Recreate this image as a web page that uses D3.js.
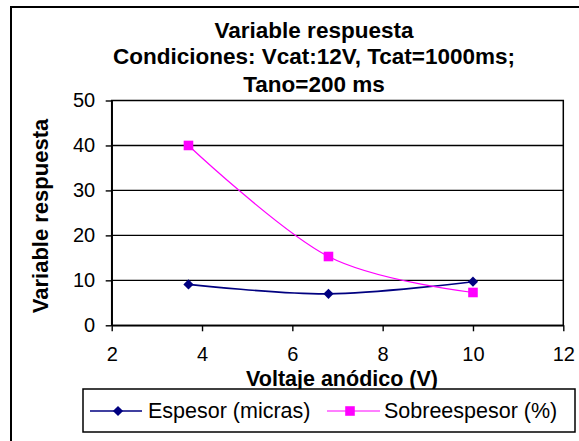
<!DOCTYPE html>
<html>
<head>
<meta charset="utf-8">
<script src="https://cdn.jsdelivr.net/npm/d3@7"></script>
<style>
  html, body { margin: 0; padding: 0; background: #fff; }
  svg { display: block; font-family: "Liberation Sans", Arial, sans-serif; }
</style>
</head>
<body>
<svg id="chart" width="579" height="441"></svg>
<script>
// Anodic voltage (V) for each measurement
const voltaje = [3.7, 6.8, 10];
// Coating thickness (micras)
const espesor = [9.1, 7.0, 9.7];
// Over-thickness (%)
const sobreespesor = [40, 15.3, 7.3];

const xTicks = [2, 4, 6, 8, 10, 12];
const yTicks = [0, 10, 20, 30, 40, 50];

const titleLines = [
  "Variable respuesta",
  "Condiciones: Vcat:12V, Tcat=1000ms;",
  "Tano=200 ms"
];
const xTitle = "Voltaje anódico (V)";
const yTitle = "Variable respuesta";
const seriesNames = ["Espesor (micras)", "Sobreespesor (%)"];

const svg = d3.select("#chart");

// outer chart frame (runs past the right and bottom edges)
svg.append("rect")
  .attr("x", 11).attr("y", 7)
  .attr("width", 620).attr("height", 480)
  .attr("fill", "#fff").attr("stroke", "#000").attr("stroke-width", 2);

const plot = { left: 111.7, right: 563.3, top: 100.5, bottom: 325.3 };

const x = d3.scaleLinear().domain([2, 12]).range([plot.left, plot.right]);
const y = d3.scaleLinear().domain([0, 50]).range([plot.bottom, plot.top]);

// plot area and horizontal gridlines
svg.append("rect")
  .attr("x", plot.left).attr("y", plot.top)
  .attr("width", plot.right - plot.left).attr("height", plot.bottom - plot.top)
  .attr("fill", "#fff").attr("stroke", "#000").attr("stroke-width", 1.5);

svg.append("g")
  .selectAll("line")
  .data(yTicks.filter(d => d > 0 && d < 50))
  .join("line")
  .attr("x1", plot.left).attr("x2", plot.right)
  .attr("y1", d => y(d)).attr("y2", d => y(d))
  .attr("stroke", "#000").attr("stroke-width", 1.4);

// axes
const yAxis = svg.append("g")
  .attr("transform", `translate(${plot.left},0)`)
  .call(d3.axisLeft(y).tickValues(yTicks).tickSize(6).tickPadding(10.5).tickSizeOuter(0));
const xAxis = svg.append("g")
  .attr("transform", `translate(0,${plot.bottom})`)
  .call(d3.axisBottom(x).tickValues(xTicks).tickSize(6).tickPadding(16).tickSizeOuter(0));

[yAxis, xAxis].forEach(g => {
  g.select(".domain").attr("stroke", "#000").attr("stroke-width", 1.5);
  g.selectAll(".tick line").attr("stroke", "#000").attr("stroke-width", 1.4);
  g.selectAll(".tick text")
    .attr("fill", "#000")
    .style("font-family", '"Liberation Sans", Arial, sans-serif')
    .style("font-size", "20px");
});

// titles
svg.append("g")
  .selectAll("text")
  .data(titleLines)
  .join("text")
  .attr("x", 314)
  .attr("y", (d, i) => [38, 64, 91.5][i])
  .attr("text-anchor", "middle")
  .attr("font-weight", "bold")
  .attr("font-size", 22.5)
  .text(d => d);

svg.append("text")
  .attr("x", 342).attr("y", 386)
  .attr("text-anchor", "middle")
  .attr("font-weight", "bold")
  .attr("font-size", 21.5)
  .text(xTitle);

svg.append("text")
  .attr("transform", "translate(48,216) rotate(-90)")
  .attr("text-anchor", "middle")
  .attr("font-weight", "bold")
  .attr("font-size", 22)
  .text(yTitle);

// series: diamonds are squares turned 45 degrees
const series = [
  { name: seriesNames[0], values: espesor, color: "#000080", width: 1.6, symbol: d3.symbolSquare, size: 52, rotate: 45 },
  { name: seriesNames[1], values: sobreespesor, color: "#FF00FF", width: 1.2, symbol: d3.symbolSquare, size: 92, rotate: 0 }
];

const line = d3.line()
  .x(d => x(d[0]))
  .y(d => y(d[1]))
  .curve(d3.curveCatmullRom.alpha(0));

series.forEach(s => {
  const pts = voltaje.map((v, i) => [v, s.values[i]]);
  svg.append("path")
    .attr("d", line(pts))
    .attr("fill", "none")
    .attr("stroke", s.color)
    .attr("stroke-width", s.width);
  svg.append("g")
    .selectAll("path")
    .data(pts)
    .join("path")
    .attr("transform", d => `translate(${x(d[0])},${y(d[1])}) rotate(${s.rotate})`)
    .attr("d", d3.symbol().type(s.symbol).size(s.size))
    .attr("fill", s.color);
});

// legend
const legend = svg.append("g");
legend.append("rect")
  .attr("x", 83).attr("y", 389)
  .attr("width", 492).attr("height", 43)
  .attr("fill", "#fff").attr("stroke", "#000").attr("stroke-width", 1.5);

const legendItems = [
  { x1: 90, x2: 142, mx: 118, tx: 148 },
  { x1: 327, x2: 380, mx: 350, tx: 384 }
];
series.forEach((s, i) => {
  const it = legendItems[i];
  legend.append("line")
    .attr("x1", it.x1).attr("x2", it.x2)
    .attr("y1", 411).attr("y2", 411)
    .attr("stroke", s.color).attr("stroke-width", s.width);
  legend.append("path")
    .attr("transform", `translate(${it.mx},411) rotate(${s.rotate})`)
    .attr("d", d3.symbol().type(s.symbol).size(s.size))
    .attr("fill", s.color);
  legend.append("text")
    .attr("x", it.tx).attr("y", 418)
    .attr("font-size", 21.5)
    .text(s.name);
});
</script>
</body>
</html>
